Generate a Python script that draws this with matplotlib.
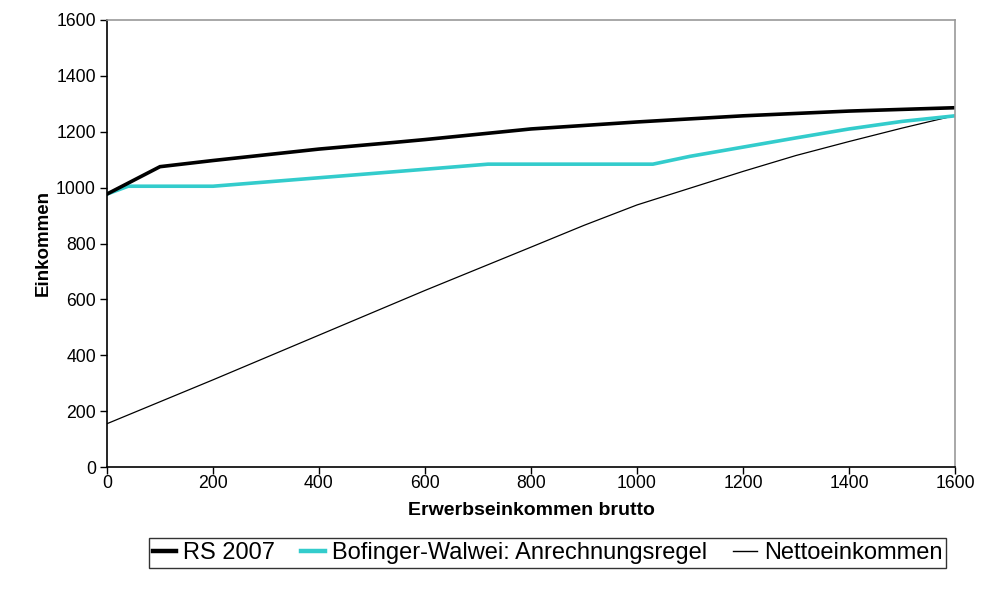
import matplotlib
matplotlib.use("Agg")
import matplotlib.pyplot as plt
from matplotlib.lines import Line2D

plt.rcParams['font.family'] = ['Liberation Sans', 'DejaVu Sans']

# Gross earned income (x) and resulting income (y) for each scheme
rs_x = [0, 100, 200, 400, 543, 600, 800, 1000, 1081, 1200, 1400, 1500, 1600]
rs_y = [977, 1075, 1097, 1138, 1162, 1172, 1210, 1235, 1244, 1257, 1274, 1280, 1286]

bw_x = [0, 40, 200, 543, 719, 1030, 1100, 1200, 1300, 1400, 1500, 1600]
bw_y = [977, 1005, 1005, 1057, 1084, 1084, 1112, 1145, 1178, 1210, 1237, 1257]

net_x = [0, 200, 400, 600, 800, 900, 1000, 1100, 1200, 1300, 1400, 1500, 1600]
net_y = [155, 312, 472, 632, 787, 865, 938, 998, 1058, 1115, 1165, 1213, 1258]

x_ticks = [0, 200, 400, 600, 800, 1000, 1200, 1400, 1600]
y_ticks = [0, 200, 400, 600, 800, 1000, 1200, 1400, 1600]

labels = ["RS 2007", "Bofinger-Walwei: Anrechnungsregel", "Nettoeinkommen"]
cyan = "#33CCCC"

fig = plt.figure(figsize=(9.84, 5.96), dpi=100)
ax = fig.add_axes([107 / 984, 1 - 467 / 596, (955 - 107) / 984, (467 - 20) / 596])

ax.plot(net_x, net_y, color="black", lw=0.9, solid_joinstyle="miter")
ax.plot(bw_x, bw_y, color=cyan, lw=2.6, solid_joinstyle="miter")
ax.plot(rs_x, rs_y, color="black", lw=2.6, solid_joinstyle="miter")

ax.set_xlim(0, 1600)
ax.set_ylim(0, 1600)
ax.set_xticks(x_ticks)
ax.set_yticks(y_ticks)
ax.tick_params(axis="both", direction="out", length=5, width=1, labelsize=12.7)
ax.tick_params(axis="x", pad=1)
ax.tick_params(axis="y", pad=3)

for side in ("left", "bottom"):
    ax.spines[side].set_color("black")
    ax.spines[side].set_linewidth(1.2)
for side in ("top", "right"):
    ax.spines[side].set_color("#999999")
    ax.spines[side].set_linewidth(1.2)

ax.set_xlabel("Erwerbseinkommen brutto", fontsize=14, fontweight="bold", labelpad=7)
ax.set_ylabel("Einkommen", fontsize=13.5, fontweight="bold", labelpad=3)

handles = [
    Line2D([], [], color="black", lw=3.2),
    Line2D([], [], color=cyan, lw=3.2),
    Line2D([], [], color="black", lw=1.0),
]
leg = fig.legend(handles, labels, loc="center", bbox_to_anchor=(547.5 / 984, 1 - 553 / 596),
                 ncol=3, frameon=True, fancybox=False, fontsize=17, handlelength=1.0,
                 handletextpad=0.3, columnspacing=1.1, borderpad=0.15, borderaxespad=0)
leg.get_frame().set_edgecolor("black")
leg.get_frame().set_linewidth(1.0)

fig.savefig("out.png", dpi=100)
